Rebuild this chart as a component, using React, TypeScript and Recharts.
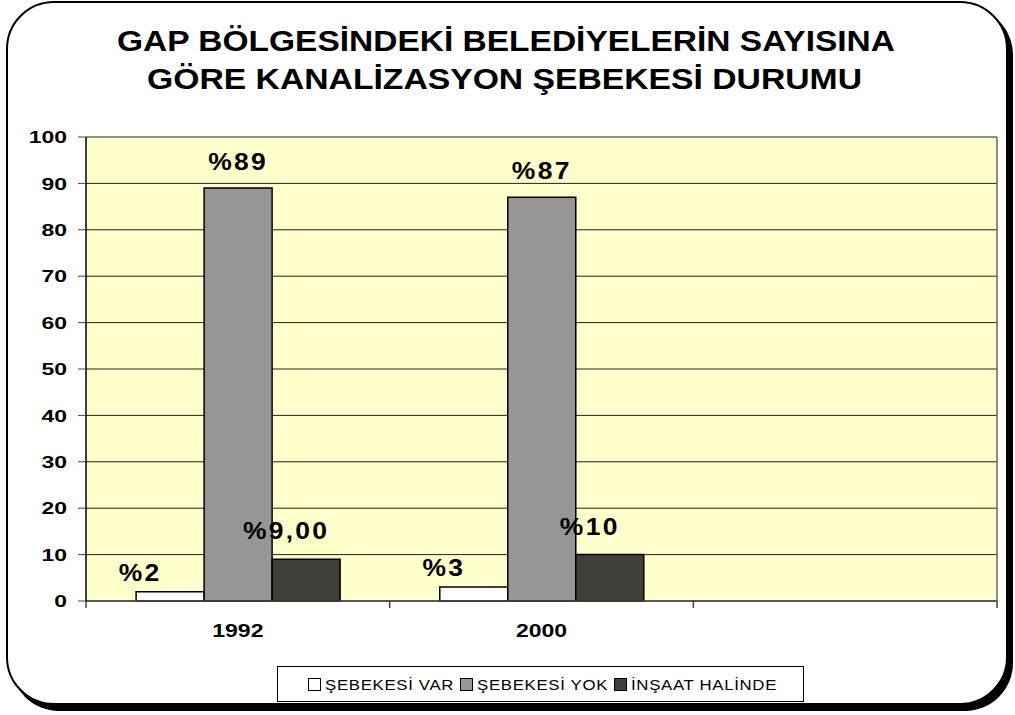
import { BarChart, Bar, XAxis, YAxis, CartesianGrid, LabelList } from 'recharts'

const YEARS = ['1992', '2000', '']
const SEBEKE_VAR = [2, 3, null]
const SEBEKE_YOK = [89, 87, null]
const INSAAT = [9, 10, null]
const VAR_LABELS = ['%2', '%3', '']
const YOK_LABELS = ['%89', '%87', '']
const INSAAT_LABELS = ['%9,00', '%10', '']
const Y_TICKS = [0, 10, 20, 30, 40, 50, 60, 70, 80, 90, 100]

const SERIES = [
  { key: 'var', name: 'ŞEBEKESİ VAR', color: '#ffffff', labels: VAR_LABELS, dx: -30, gap: 11 },
  { key: 'yok', name: 'ŞEBEKESİ YOK', color: '#969696', labels: YOK_LABELS, dx: 0, gap: 18 },
  { key: 'ins', name: 'İNŞAAT HALİNDE', color: '#3f403a', labels: INSAAT_LABELS, dx: -20, gap: 20 },
]

const data = YEARS.map((year, i) => ({
  year,
  var: SEBEKE_VAR[i],
  yok: SEBEKE_YOK[i],
  ins: INSAAT[i],
}))

const W = 1015
const H = 715
const PLOT_LEFT = 86
const PLOT_RIGHT = 997
const BAND = (PLOT_RIGHT - PLOT_LEFT) / YEARS.length
const FONT = '"Liberation Sans", Arial, sans-serif'

function YTick(props: any) {
  const { x, y, payload } = props
  return (
    <text
      transform={`translate(${x},${y}) scale(1.35,1)`}
      textAnchor="end"
      dy="0.36em"
      fontFamily={FONT}
      fontWeight="bold"
      fontSize={17}
      fill="#000"
    >
      {payload.value}
    </text>
  )
}

function XTick(props: any) {
  const { x, y, payload, index } = props
  const left = x - BAND / 2
  const right = x + BAND / 2
  return (
    <g>
      <line x1={left} y1={y} x2={left} y2={y + 7} stroke="#444" strokeWidth={1.5} />
      {index === YEARS.length - 1 && (
        <line x1={right} y1={y} x2={right} y2={y + 7} stroke="#444" strokeWidth={1.5} />
      )}
      <text
        transform={`translate(${x},${y + 36}) scale(1.28,1)`}
        textAnchor="middle"
        fontFamily={FONT}
        fontWeight="bold"
        fontSize={18}
        fill="#000"
      >
        {payload.value}
      </text>
    </g>
  )
}

function makeLabel(labels: string[], dx: number, gap: number) {
  return (p: any) => {
    const { x, y, width, index } = p
    const txt = labels[index]
    if (!txt) return null
    return (
      <text
        transform={`translate(${x + width / 2 + dx},${y - gap}) scale(1.15,1)`}
        textAnchor="middle"
        fontFamily={FONT}
        fontWeight="bold"
        fontSize={23}
        letterSpacing={2}
        fill="#000"
      >
        {txt}
      </text>
    )
  }
}

function ChartLegend() {
  return (
    <div
      style={{
        position: 'absolute',
        left: 277,
        top: 666,
        width: 527,
        height: 36,
        boxSizing: 'border-box',
        border: '1px solid #000',
        background: '#fff',
        display: 'flex',
        alignItems: 'center',
        justifyContent: 'center',
        gap: 8,
        fontFamily: FONT,
        fontSize: 15,
        letterSpacing: 0.6,
        whiteSpace: 'nowrap',
      }}
    >
      {SERIES.map(s => (
        <div key={s.key} style={{ display: 'flex', alignItems: 'center', gap: 4 }}>
          <div style={{ width: 11, height: 11, background: s.color, border: '1px solid #000' }} />
          <span style={{ display: 'inline-block', transform: 'scaleX(1.12)', transformOrigin: 'left', marginRight: 12 }}>
            {s.name}
          </span>
        </div>
      ))}
    </div>
  )
}

export default function App() {
  return (
    <div style={{ position: 'absolute', left: 0, top: 0, width: W, height: H, background: '#fff', overflow: 'hidden' }}>
      <div
        style={{
          position: 'absolute',
          left: 6,
          top: 1,
          width: 1002,
          height: 704,
          boxSizing: 'border-box',
          border: '2px solid #000',
          borderRadius: 48,
          boxShadow: '5px 6px 0 #000',
          background: '#fff',
        }}
      />
      <svg width={W} height={120} style={{ position: 'absolute', left: 0, top: 0 }}>
        <text x={506} y={51} textAnchor="middle" fontFamily={FONT} fontWeight="bold" fontSize={29} textLength={778} lengthAdjust="spacingAndGlyphs">
          GAP BÖLGESİNDEKİ BELEDİYELERİN SAYISINA
        </text>
        <text x={504.5} y={89} textAnchor="middle" fontFamily={FONT} fontWeight="bold" fontSize={29} textLength={715} lengthAdjust="spacingAndGlyphs">
          GÖRE KANALİZASYON ŞEBEKESİ DURUMU
        </text>
      </svg>
      <div style={{ position: 'absolute', left: 0, top: 0 }}>
        <BarChart
          width={W}
          height={H}
          data={data}
          margin={{ top: 137, right: W - PLOT_RIGHT - 1, left: PLOT_LEFT - 80, bottom: H - 601 - 40 }}
          barCategoryGap="16.5%"
          barGap={0}
        >
          <CartesianGrid yAxisId="l" vertical={false} fill="#ffffcc" stroke="#222" strokeWidth={1} />
          <XAxis
            dataKey="year"
            height={40}
            tickSize={0}
            tickMargin={0}
            tickLine={false}
            axisLine={{ stroke: '#444', strokeWidth: 1.5 }}
            tick={<XTick />}
            interval={0}
          />
          <YAxis
            yAxisId="l"
            width={80}
            domain={[0, 100]}
            ticks={Y_TICKS}
            interval={0}
            tickSize={8}
            tickMargin={11}
            tickLine={{ stroke: '#444' }}
            axisLine={{ stroke: '#000', strokeWidth: 1.5 }}
            tick={<YTick />}
          />
          <YAxis yAxisId="r" orientation="right" width={1} domain={[0, 100]} tick={false} tickLine={false} axisLine={{ stroke: '#666', strokeWidth: 1.5 }} />
          {SERIES.map(s => (
            <Bar key={s.key} yAxisId="l" dataKey={s.key} name={s.name} fill={s.color} stroke="#000" strokeWidth={1.5} isAnimationActive={false}>
              <LabelList dataKey={s.key} content={makeLabel(s.labels, s.dx, s.gap)} />
            </Bar>
          ))}
        </BarChart>
      </div>
      <ChartLegend />
    </div>
  )
}
